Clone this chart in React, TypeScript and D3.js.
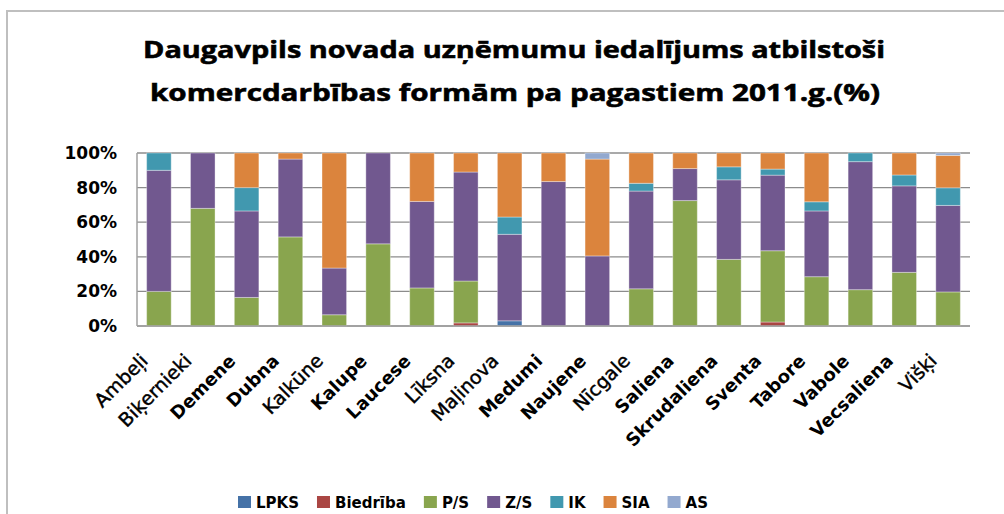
import { useEffect, useRef } from "react";
import * as d3 from "d3";

const W = 1004;
const H = 514;

const categories = [
  "Ambeļi", "Biķernieki", "Demene", "Dubna", "Kalkūne", "Kalupe", "Laucese",
  "Līksna", "Maļinova", "Medumi", "Naujene", "Nīcgale", "Saliena", "Skrudaliena",
  "Sventa", "Tabore", "Vabole", "Vecsaliena", "Višķi",
];
// labels drawn in bold in the original
const boldLabels = [
  "Demene", "Dubna", "Kalupe", "Laucese", "Medumi", "Naujene", "Saliena",
  "Skrudaliena", "Sventa", "Tabore", "Vabole", "Vecsaliena",
];

const seriesNames = ["LPKS", "Biedrība", "P/S", "Z/S", "IK", "SIA", "AS"];
const seriesColors = ["#4572a7", "#aa4643", "#89a54e", "#71588f", "#4198af", "#db843d", "#93a9cf"];

// values in %, one per category
const lpks = [0, 0, 0, 0, 0, 0, 0, 0, 3, 0, 0, 0, 0, 0, 0, 0, 0, 0, 0];
const biedriba = [0, 0, 0, 0, 0, 0, 0, 1.8, 0, 0, 0, 0, 0, 0, 2.3, 0, 0, 0, 0];
const ps = [20, 68, 16.5, 51.5, 6.5, 47.5, 22, 24.2, 0, 0, 0, 21.5, 72.5, 38.5, 41.2, 28.5, 21, 31, 19.7];
const zs = [70, 32, 50, 45, 27, 52.5, 50, 63, 50, 83.5, 40.5, 56.5, 18.5, 46, 43.7, 38, 74, 50, 50];
const ik = [10, 0, 13.5, 0, 0, 0, 0, 0, 10, 0, 0, 4.5, 0, 7.5, 3.5, 5.3, 5, 6.3, 10.2];
const sia = [0, 0, 20, 3.5, 66.5, 0, 28, 11, 37, 16.5, 56, 17.5, 9, 8, 9.3, 28.2, 0, 12.7, 18.7];
const as = [0, 0, 0, 0, 0, 0, 0, 0, 0, 0, 3.5, 0, 0, 0, 0, 0, 0, 0, 1.4];

const yTicks = [0, 20, 40, 60, 80, 100];

const App = () => {
  const svgRef = useRef<SVGSVGElement>(null);

  useEffect(() => {
    const svg = d3.select(svgRef.current);
    svg.selectAll("*").remove();

    const margin = { top: 153, right: 34, bottom: 188, left: 137 };
    const font = "'DejaVu Sans', sans-serif";
    const titleFont = "'Open Sans', sans-serif";

    const seriesData = [lpks, biedriba, ps, zs, ik, sia, as];
    const rows = categories.map((c, i) => {
      const r: any = { cat: c };
      seriesNames.forEach((s, j) => (r[s] = seriesData[j][i]));
      return r;
    });
    const stacked = d3.stack().keys(seriesNames)(rows);

    const x = d3
      .scaleBand()
      .domain(categories)
      .range([margin.left, W - margin.right])
      .paddingInner(0.44)
      .paddingOuter(0.22);
    const y = d3.scaleLinear().domain([0, 100]).range([H - margin.bottom, margin.top]);

    // outer chart frame
    svg.append("rect")
      .attr("x", 7).attr("y", 11)
      .attr("width", W + 20).attr("height", H + 20)
      .attr("fill", "none").attr("stroke", "#bfbfbf").attr("stroke-width", 2);

    // title
    const title = svg.append("g")
      .attr("font-family", titleFont).attr("font-weight", "bold").attr("font-size", 24)
      .attr("text-anchor", "middle").attr("fill", "#000")
      .attr("stroke", "#000").attr("stroke-width", 0.6);
    title.append("text").attr("x", 514).attr("y", 58)
      .attr("textLength", 742).attr("lengthAdjust", "spacingAndGlyphs")
      .text("Daugavpils novada uzņēmumu iedalījums atbilstoši");
    title.append("text").attr("x", 515).attr("y", 101)
      .attr("textLength", 730).attr("lengthAdjust", "spacingAndGlyphs")
      .text("komercdarbības formām pa pagastiem 2011.g.(%)");

    // gridlines
    svg.append("g").selectAll("line").data(yTicks).join("line")
      .attr("x1", margin.left).attr("x2", W - margin.right)
      .attr("y1", (d) => y(d)).attr("y2", (d) => y(d))
      .attr("stroke", "#8c8c8c").attr("stroke-width", 1.3);

    // y labels
    svg.append("g").selectAll("text").data(yTicks).join("text")
      .attr("x", 117).attr("y", (d) => y(d) + 6)
      .attr("text-anchor", "end")
      .attr("font-family", font).attr("font-weight", "bold").attr("font-size", 17)
      .text((d) => d + "%");

    // bars
    svg.append("g").selectAll("g").data(stacked).join("g")
      .attr("fill", (d, i) => seriesColors[i])
      .selectAll("rect")
      .data((d) => d.filter((v) => v[1] - v[0] > 0))
      .join("rect")
      .attr("x", (d: any) => x(d.data.cat)!)
      .attr("width", x.bandwidth())
      .attr("y", (d) => y(d[1]))
      .attr("height", (d) => y(d[0]) - y(d[1]))
      .attr("stroke", "#ffffff").attr("stroke-opacity", 0.35).attr("stroke-width", 1);

    // axis lines
    svg.append("line")
      .attr("x1", margin.left).attr("x2", margin.left)
      .attr("y1", y(100)).attr("y2", y(0))
      .attr("stroke", "#a0a0a0").attr("stroke-width", 1.5);
    svg.append("line")
      .attr("x1", margin.left).attr("x2", W - margin.right)
      .attr("y1", y(0)).attr("y2", y(0))
      .attr("stroke", "#a0a0a0").attr("stroke-width", 1.5);

    // category labels
    svg.append("g").selectAll("text").data(categories).join("text")
      .attr("transform", (d) => `translate(${x(d)! + x.bandwidth() / 2 - 10},362) rotate(-45)`)
      .attr("text-anchor", "end")
      .attr("font-family", font)
      .attr("font-size", (d) => (boldLabels.includes(d) ? 18 : 19))
      .attr("font-weight", (d) => (boldLabels.includes(d) ? "bold" : "normal"))
      .attr("stroke", (d) => (boldLabels.includes(d) ? "none" : "#000"))
      .attr("stroke-width", 0.45)
      .text((d) => d);

    // legend
    const legend = svg.append("g").attr("transform", "translate(238,0)");
    let lx = 0;
    seriesNames.forEach((s, i) => {
      const g = legend.append("g").attr("transform", `translate(${lx},0)`);
      g.append("rect").attr("x", 0).attr("y", 496).attr("width", 13).attr("height", 12)
        .attr("fill", seriesColors[i]);
      const t = g.append("text").attr("x", 18).attr("y", 508)
        .attr("font-family", font).attr("font-weight", "bold").attr("font-size", 15)
        .text(s);
      const tw = (t.node() as SVGTextElement).getComputedTextLength();
      lx += 18 + tw + 18;
    });
  }, []);

  return (
    <svg
      ref={svgRef}
      width={W}
      height={H}
      style={{ position: "absolute", left: 0, top: 0, background: "#fff" }}
    />
  );
};

export default App;
